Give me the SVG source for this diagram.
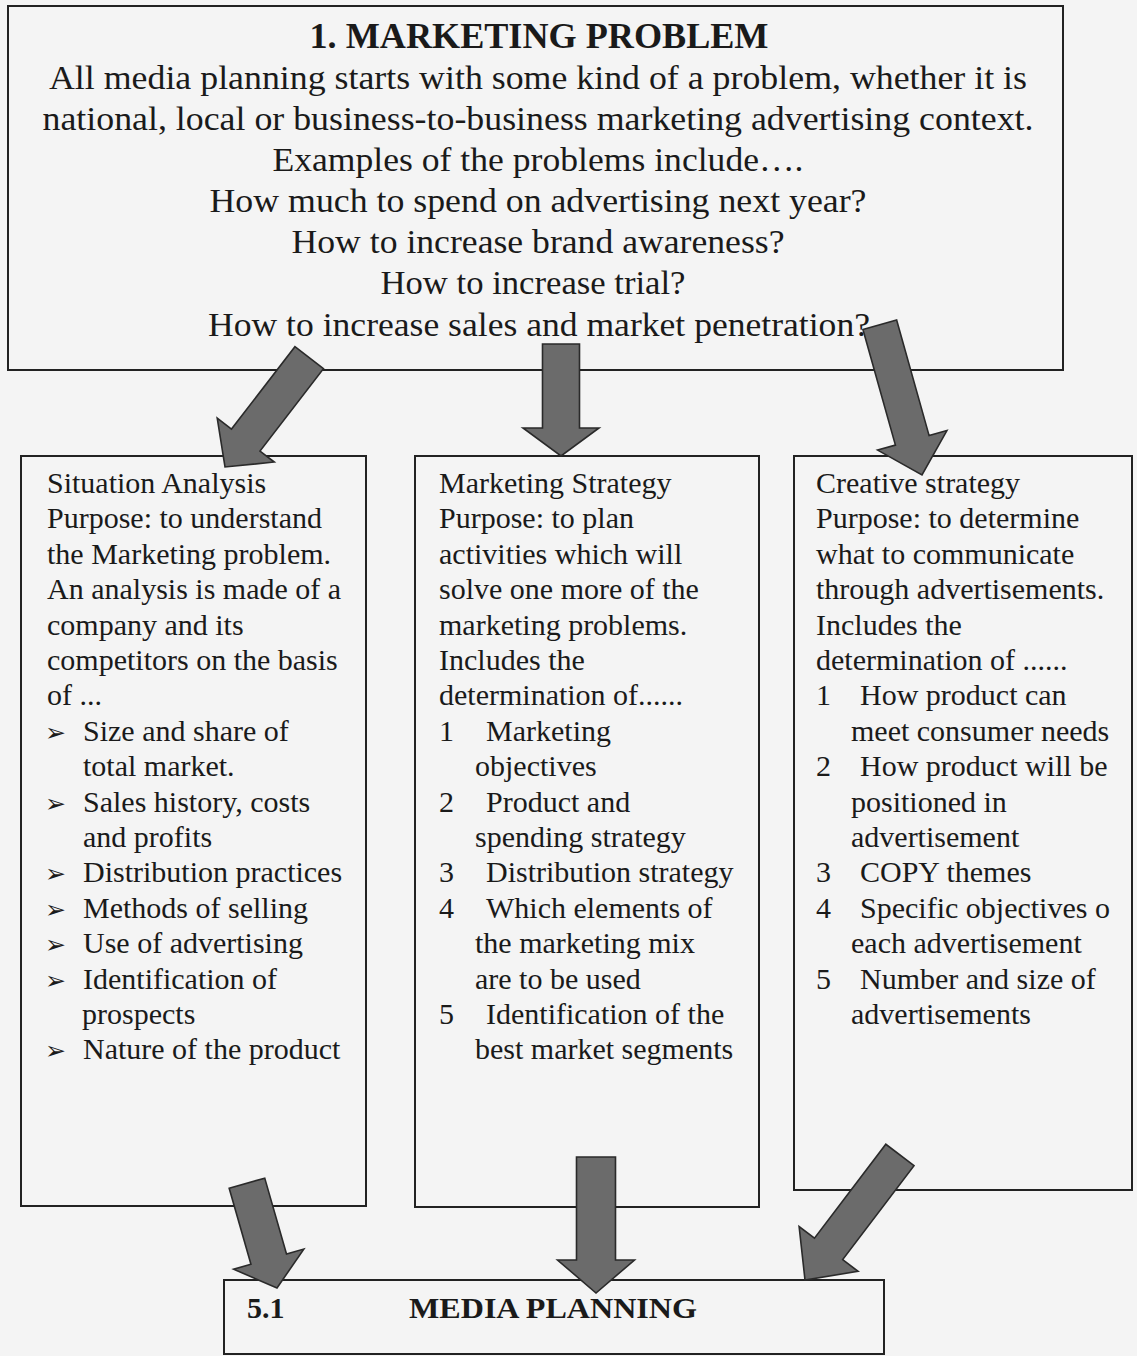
<svg xmlns="http://www.w3.org/2000/svg" width="1137" height="1356" viewBox="0 0 1137 1356">
<style>
.box{fill:none;stroke:#222;stroke-width:2}
.t{font-family:"Liberation Serif","Times New Roman",serif;fill:#1a1a1a}
.top{font-size:34px;text-anchor:middle}
.ttl{font-size:35px;font-weight:bold;text-anchor:middle}
.s{font-size:30px}
.b{font-family:"DejaVu Sans",sans-serif;font-size:25px;fill:#1a1a1a}
.mp{font-size:30px;font-weight:bold}
.arr{fill:#6b6b6b;stroke:#2a2a2a;stroke-width:1.6;stroke-linejoin:miter}
</style>
<rect x="0" y="0" width="1137" height="1356" fill="#f4f4f4"/>

<g id="marketing-problem">
<rect class="box" x="8" y="6" width="1055" height="364"/>
<text class="t ttl" x="539" y="48" textLength="459" lengthAdjust="spacingAndGlyphs">1.  MARKETING PROBLEM</text>
<text class="t top" x="538" y="89" textLength="978" lengthAdjust="spacingAndGlyphs">All media planning starts with some kind of a problem, whether it is</text>
<text class="t top" x="538" y="130" textLength="991" lengthAdjust="spacingAndGlyphs">national, local or business-to-business marketing advertising context.</text>
<text class="t top" x="538" y="171" textLength="531" lengthAdjust="spacingAndGlyphs">Examples of the problems include….</text>
<text class="t top" x="538" y="212" textLength="657" lengthAdjust="spacingAndGlyphs">How much to spend on advertising next year?</text>
<text class="t top" x="538" y="253" textLength="493" lengthAdjust="spacingAndGlyphs">How to increase brand awareness?</text>
<text class="t top" x="533" y="294" textLength="305" lengthAdjust="spacingAndGlyphs">How to increase trial?</text>
<text class="t top" x="539" y="336" textLength="662" lengthAdjust="spacingAndGlyphs">How to increase sales and market penetration?</text>
</g>

<g id="situation-analysis">
<rect class="box" x="21" y="456" width="345" height="750"/>
<text class="t s" x="47" y="493">Situation Analysis</text>
<text class="t s" x="47" y="528.4">Purpose: to understand</text>
<text class="t s" x="47" y="563.8">the Marketing problem.</text>
<text class="t s" x="47" y="599.2">An analysis is made of a</text>
<text class="t s" x="47" y="634.6">company and its</text>
<text class="t s" x="47" y="670">competitors on the basis</text>
<text class="t s" x="47" y="705.4">of ...</text>
<text class="b" x="45" y="740.8">➢</text><text class="t s" x="83" y="740.8">Size and share of</text>
<text class="t s" x="83" y="776.2">total market.</text>
<text class="b" x="45" y="811.6">➢</text><text class="t s" x="83" y="811.6">Sales history, costs</text>
<text class="t s" x="83" y="847">and profits</text>
<text class="b" x="45" y="882.4">➢</text><text class="t s" x="83" y="882.4">Distribution practices</text>
<text class="b" x="45" y="917.8">➢</text><text class="t s" x="83" y="917.8">Methods of selling</text>
<text class="b" x="45" y="953.2">➢</text><text class="t s" x="83" y="953.2">Use of advertising</text>
<text class="b" x="45" y="988.6">➢</text><text class="t s" x="83" y="988.6">Identification of</text>
<text class="t s" x="82" y="1024">prospects</text>
<text class="b" x="45" y="1059.4">➢</text><text class="t s" x="83" y="1059.4">Nature of the product</text>
</g>

<g id="marketing-strategy">
<rect class="box" x="415" y="456" width="344" height="751"/>
<text class="t s" x="439" y="493">Marketing Strategy</text>
<text class="t s" x="439" y="528.4">Purpose: to plan</text>
<text class="t s" x="439" y="563.8">activities which will</text>
<text class="t s" x="439" y="599.2">solve one more of the</text>
<text class="t s" x="439" y="634.6">marketing problems.</text>
<text class="t s" x="439" y="670">Includes the</text>
<text class="t s" x="439" y="705.4">determination of......</text>
<text class="t s" x="439" y="740.8">1</text><text class="t s" x="486" y="740.8">Marketing</text>
<text class="t s" x="475" y="776.2">objectives</text>
<text class="t s" x="439" y="811.6">2</text><text class="t s" x="486" y="811.6">Product and</text>
<text class="t s" x="475" y="847">spending strategy</text>
<text class="t s" x="439" y="882.4">3</text><text class="t s" x="486" y="882.4">Distribution strategy</text>
<text class="t s" x="439" y="917.8">4</text><text class="t s" x="486" y="917.8">Which elements of</text>
<text class="t s" x="475" y="953.2">the marketing mix</text>
<text class="t s" x="475" y="988.6">are to be used</text>
<text class="t s" x="439" y="1024">5</text><text class="t s" x="486" y="1024">Identification of the</text>
<text class="t s" x="475" y="1059.4">best market segments</text>
</g>

<g id="creative-strategy">
<rect class="box" x="794" y="456" width="338" height="734"/>
<text class="t s" x="816" y="493">Creative strategy</text>
<text class="t s" x="816" y="528.4">Purpose: to determine</text>
<text class="t s" x="816" y="563.8">what to communicate</text>
<text class="t s" x="816" y="599.2">through advertisements.</text>
<text class="t s" x="816" y="634.6">Includes the</text>
<text class="t s" x="816" y="670">determination of ......</text>
<text class="t s" x="816" y="705.4">1</text><text class="t s" x="860" y="705.4">How product can</text>
<text class="t s" x="851" y="740.8">meet consumer needs</text>
<text class="t s" x="816" y="776.2">2</text><text class="t s" x="860" y="776.2">How product will be</text>
<text class="t s" x="851" y="811.6">positioned in</text>
<text class="t s" x="851" y="847">advertisement</text>
<text class="t s" x="816" y="882.4">3</text><text class="t s" x="860" y="882.4">COPY themes</text>
<text class="t s" x="816" y="917.8">4</text><text class="t s" x="860" y="917.8">Specific objectives o</text>
<text class="t s" x="851" y="953.2">each advertisement</text>
<text class="t s" x="816" y="988.6">5</text><text class="t s" x="860" y="988.6">Number and size of</text>
<text class="t s" x="851" y="1024">advertisements</text>
</g>

<g id="media-planning">
<rect class="box" x="224" y="1280" width="660" height="74"/>
<text class="t mp" x="247" y="1318">5.1</text>
<text class="t mp" x="409" y="1318" textLength="288" lengthAdjust="spacingAndGlyphs">MEDIA PLANNING</text>
</g>

<g id="connectors">
<polygon class="arr" transform="translate(225,467) rotate(37.6)" points="-18,-138 18,-138 18,-34 36,-34 0,0 -36,-34 -18,-34"/>
<polygon class="arr" transform="translate(561,456)" points="-18.5,-112 18.5,-112 18.5,-28 38,-28 0,0 -38,-28 -18.5,-28"/>
<polygon class="arr" transform="translate(922,475) rotate(-15.7)" points="-17.5,-156 17.5,-156 17.5,-36 36,-36 0,0 -36,-36 -17.5,-36"/>
<polygon class="arr" transform="translate(277,1288) rotate(-16)" points="-18.5,-109 18.5,-109 18.5,-30 36.5,-30 0,0 -36.5,-30 -18.5,-30"/>
<polygon class="arr" transform="translate(596,1293)" points="-19.5,-136 19.5,-136 19.5,-33 38.5,-33 0,0 -38.5,-33 -19.5,-33"/>
<polygon class="arr" transform="translate(805,1280) rotate(37.2)" points="-17.7,-157 17.7,-157 17.7,-39 37,-39 0,0 -37,-39 -17.7,-39"/>
</g>
</svg>
